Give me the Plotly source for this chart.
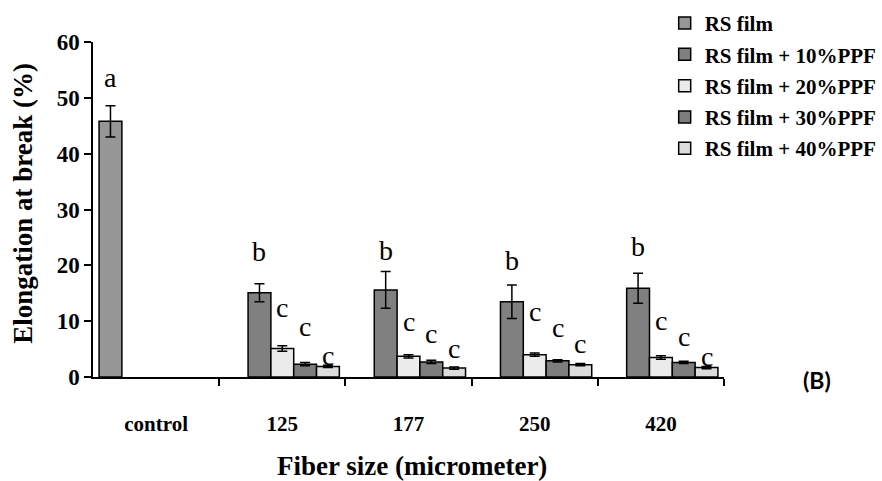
import plotly.graph_objects as go

# Categories on the x axis
categories = ["control", "125", "177", "250", "420"]
cat_pos = [0, 1, 2, 3, 4]

# Series: elongation at break (%) and error
series_names = ["RS film", "RS film + 10%PPF", "RS film + 20%PPF",
                "RS film + 30%PPF", "RS film + 40%PPF"]
rs_film = [45.8, None, None, None, None]
rs_film_err = [2.8, None, None, None, None]
ppf10 = [None, 15.1, 15.6, 13.5, 15.9]
ppf10_err = [None, 1.6, 3.3, 3.0, 2.7]
ppf20 = [None, 5.1, 3.7, 4.0, 3.5]
ppf20_err = [None, 0.5, 0.3, 0.3, 0.3]
ppf30 = [None, 2.3, 2.7, 2.9, 2.6]
ppf30_err = [None, 0.3, 0.3, 0.2, 0.2]
ppf40 = [None, 1.9, 1.6, 2.2, 1.7]
ppf40_err = [None, 0.2, 0.2, 0.2, 0.2]

series_values = [rs_film, ppf10, ppf20, ppf30, ppf40]
series_errors = [rs_film_err, ppf10_err, ppf20_err, ppf30_err, ppf40_err]
series_colors = ["#969696", "#808080", "#ebebeb", "#7d7d7d", "#dcdcdc"]

# Significance letters: (series index, category index, letter, y position)
letter_series = [0, 1, 2, 3, 4, 1, 2, 3, 4, 1, 2, 3, 4, 1, 2, 3, 4]
letter_cat = [0, 1, 1, 1, 1, 2, 2, 2, 2, 3, 3, 3, 3, 4, 4, 4, 4]
letter_text = ["a", "b", "c", "c", "c", "b", "c", "c", "c",
               "b", "c", "c", "c", "b", "c", "c", "c"]
letter_y = [53.6, 22.4, 12.5, 9.0, 3.9, 22.7, 9.9, 7.8, 5.1,
            20.8, 11.7, 8.9, 6.0, 23.3, 10.2, 7.2, 3.7]

SERIF = "Liberation Serif"
BARGAP = 0.096
N_SERIES = len(series_names)

fig = go.Figure()
for name, vals, errs, col in zip(series_names, series_values, series_errors, series_colors):
    fig.add_trace(go.Bar(
        x=cat_pos, y=vals, name=name, legendgroup=name,
        marker=dict(color=col, line=dict(color="black", width=1.5)),
        error_y=dict(type="data", array=errs, visible=True,
                     color="black", thickness=1.5, width=5),
    ))

# Slot centre within a group for each series
slot_w = (1 - BARGAP) / N_SERIES
annotations = []
for s, c, t, yv in zip(letter_series, letter_cat, letter_text, letter_y):
    xoff = -(1 - BARGAP) / 2 + slot_w * (s + 0.5)
    annotations.append(dict(x=c + xoff, y=yv, xref="x", yref="y", text=t,
                            showarrow=False, xanchor="center", yanchor="middle",
                            font=dict(family=SERIF, size=28, color="black")))

annotations += [
    dict(x=-0.110, y=0.5186, xref="paper", yref="paper",
         text="Elongation at break (%)", textangle=-90, showarrow=False,
         xanchor="center", yanchor="middle",
         font=dict(family=SERIF, size=27, color="black", weight="bold")),
    dict(x=0.5063, y=-0.2644, xref="paper", yref="paper",
         text="Fiber size (micrometer)", showarrow=False,
         xanchor="center", yanchor="middle",
         font=dict(family=SERIF, size=27, color="black", weight="bold")),
    dict(x=1.148, y=-0.01, xref="paper", yref="paper", text="(B)",
         showarrow=False, xanchor="center", yanchor="middle",
         font=dict(family="Lato", size=23, color="black", weight="bold")),
]

fig.update_layout(
    width=882, height=481,
    margin=dict(l=93, r=158, t=42, b=104, autoexpand=False),
    paper_bgcolor="white", plot_bgcolor="white",
    barmode="group", bargap=BARGAP, bargroupgap=0,
    showlegend=True,
    legend=dict(x=0.906, xanchor="left", y=0.994, yref="container", yanchor="top",
                font=dict(family=SERIF, size=21, color="black", weight="bold"),
                tracegroupgap=1, bgcolor="rgba(0,0,0,0)",
                itemclick=False),
    annotations=annotations,
    xaxis=dict(
        range=[-0.5, 4.5], tickmode="array", tickvals=cat_pos,
        ticktext=categories,
        ticks="outside", ticklen=27, tickcolor="rgba(0,0,0,0)",
        tickfont=dict(family=SERIF, size=21, color="black", weight="bold"),
        showline=True, linecolor="black", linewidth=1.5,
        showgrid=False, zeroline=False, automargin=False,
        minor=dict(tickvals=[0.5, 1.5, 2.5, 3.5, 4.5], ticks="outside",
                   ticklen=7, tickcolor="black", tickwidth=1.5, showgrid=False),
    ),
    yaxis=dict(
        range=[0, 60], dtick=10, tick0=0,
        ticks="outside", ticklen=7, tickcolor="black", tickwidth=1.5,
        tickfont=dict(family=SERIF, size=23, color="black", weight="bold"),
        showline=True, linecolor="black", linewidth=1.5,
        showgrid=False, zeroline=False, automargin=False,
    ),
)

fig.write_html("out.html")
